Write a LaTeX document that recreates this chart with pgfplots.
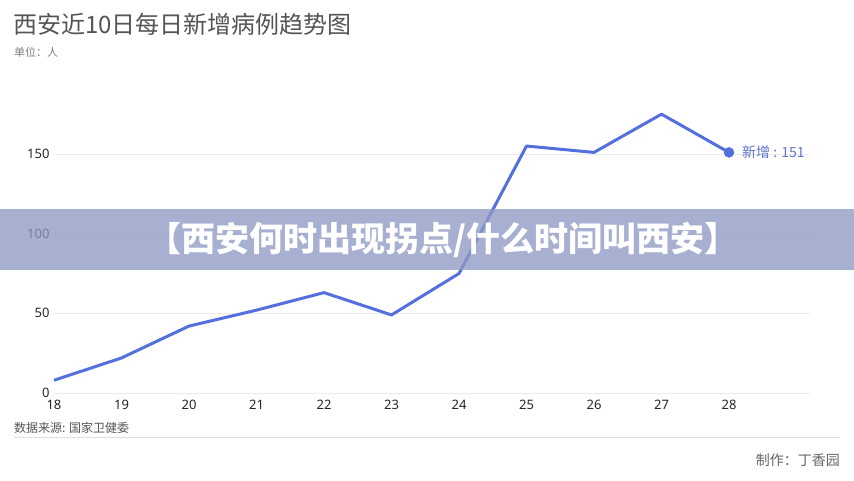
\documentclass[border=0pt]{standalone}
\usepackage{pgfplots}
\pgfplotsset{compat=1.18}
\usepackage{fontspec}
\setmainfont{Noto Sans}
\newfontfamily\cjk{Noto Sans CJK SC}
\definecolor{linec}{RGB}{84,112,222}
\definecolor{labc}{RGB}{96,118,200}
\definecolor{bannerc}{RGB}{143,153,197}
\definecolor{titlec}{RGB}{85,85,85}
\definecolor{gridc}{RGB}{235,235,235}
\begin{document}
\begin{tikzpicture}[x=1pt,y=1pt]
\fill[white] (0,0) rectangle (854,480);
\useasboundingbox (0,0) rectangle (854,480);
\begin{axis}[
  at={(54pt,87pt)}, anchor=south west,
  scale only axis, width=756pt, height=286.8pt,
  xmin=18, xmax=29.2, ymin=0, ymax=180,
  axis line style={draw=none},
  major tick length=0pt,
  xtick={18,19,...,28}, ytick={0,50,100,150},
  ymajorgrids, grid style={gridc, line width=1pt},
  clip=false,
  /pgf/number format/assume math mode=true,
  ticklabel style={font=\fontsize{13}{13}\selectfont, text=black!85},
  yticklabel style={xshift=-1pt},
  xticklabel style={yshift=-4pt},
]
\addplot[linec, line width=3pt, line join=round] coordinates {
(18,8) (19,22) (20,42) (21,52) (22,63) (23,49) (24,75) (25,155) (26,151) (27,175) (28,151)
};
\addplot[linec, only marks, mark=*, mark size=5pt] coordinates {(28,151)};
\node[anchor=west, text=labc, font=\cjk\fontsize{14}{14}\selectfont, inner sep=0pt] at (axis cs:28,151) [xshift=13pt] {新增 : 151};
\end{axis}
\fill[bannerc, fill opacity=0.77] (0,210) rectangle (854,271);
\node[text=white, font=\cjk\bfseries\fontsize{34}{34}\selectfont] at (443,240) {【西安何时出现拐点/什么时间叫西安】};
\node[anchor=west, text=titlec, font=\cjk\fontsize{24}{24}\selectfont, inner sep=0pt] at (13,456) {西安近10日每日新增病例趋势图};
\node[anchor=west, text=black!50, font=\cjk\fontsize{11}{11}\selectfont, inner sep=0pt] at (14,428) {单位：人};
\node[anchor=west, text=titlec, font=\cjk\fontsize{12}{12}\selectfont, inner sep=0pt] at (14,52) {数据来源: 国家卫健委};
\draw[black!13, line width=1pt] (14,43) -- (840,43);
\node[anchor=east, text=black!60, font=\cjk\fontsize{14}{14}\selectfont, inner sep=0pt] at (840,20) {制作：丁香园};
\end{tikzpicture}
\end{document}
